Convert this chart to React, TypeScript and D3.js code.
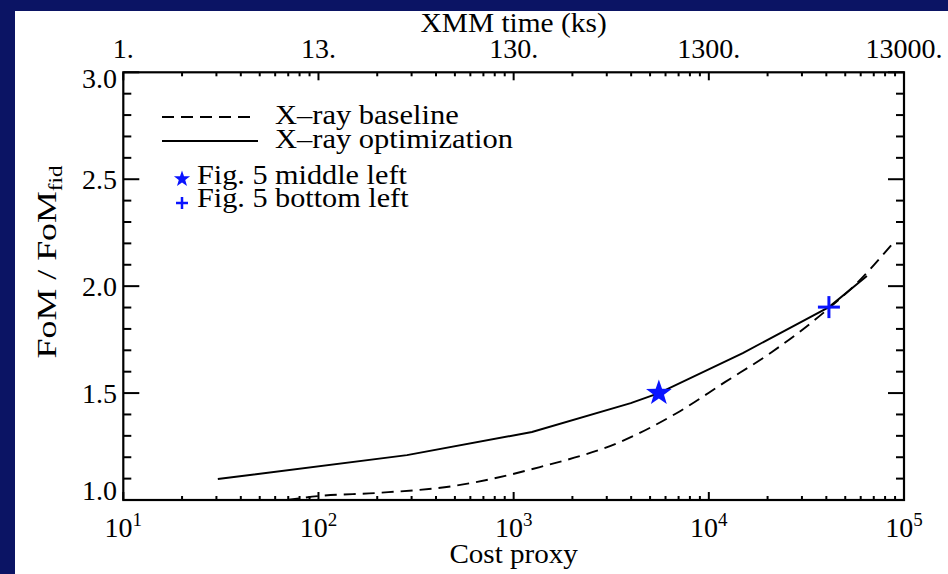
import React from 'react';
import * as d3 from 'd3';

// Axis definitions
const costTicks = [10, 100, 1000, 10000, 100000];
const costExponents = ['1', '2', '3', '4', '5'];
const xmmLabels = ['1.', '13.', '130.', '1300.', '13000.'];
const fomTicks = [1.0, 1.5, 2.0, 2.5, 3.0];
const fomLabels = ['1.0', '1.5', '2.0', '2.5', '3.0'];

// X-ray optimization curve (cost proxy, FoM / FoM_fid)
const optCost = [30.5, 284, 1241, 3981, 5546, 14930, 41240, 64550];
const optFoM = [1.098, 1.21, 1.318, 1.453, 1.5, 1.687, 1.902, 2.047];

// X-ray baseline curve
const baseCost = [69, 102, 199, 489, 1363, 3504, 6864, 12090, 21050, 41240, 57370, 87750];
const baseFoM = [1.0, 1.019, 1.033, 1.065, 1.154, 1.271, 1.407, 1.551, 1.692, 1.897, 2.014, 2.201];

// Highlighted configurations
const middleLeftPoint = [5546, 1.5];
const bottomLeftPoint = [41240, 1.902];

const W = 948;
const H = 574;
const NAVY = '#0b1464';
const BLUE = '#0a14ff';
const FONT = '"Liberation Serif", "Times New Roman", serif';
const FS = 28;

function starPath(cx: number, cy: number, R: number) {
  const r = R * 0.4;
  const pts: string[] = [];
  for (let i = 0; i < 10; i++) {
    const a = -Math.PI / 2 + (i * Math.PI) / 5;
    const rad = i % 2 === 0 ? R : r;
    pts.push(`${(cx + rad * Math.cos(a)).toFixed(2)},${(cy + rad * Math.sin(a)).toFixed(2)}`);
  }
  return 'M' + pts.join('L') + 'Z';
}

// Text drawn with a horizontal stretch, anchored at (x, y)
function Label(props: {
  x: number;
  y: number;
  sx?: number;
  anchor?: 'start' | 'middle' | 'end';
  size?: number;
  children: React.ReactNode;
}) {
  const { x, y, sx = 1, anchor = 'start', size = FS, children } = props;
  return (
    <text
      transform={`translate(${x},${y}) scale(${sx},1)`}
      fontSize={size}
      textAnchor={anchor}
      fill="#000"
    >
      {children}
    </text>
  );
}

export default function App() {
  const left = 123.3, right = 904, top = 72.3, bottom = 500;
  const x = d3.scaleLog().domain([10, 1e5]).range([left, right]);
  const y = d3.scaleLinear().domain([1, 3]).range([bottom, top]);

  const minorX: number[] = [];
  for (let k = 1; k < 5; k++) for (let m = 2; m <= 9; m++) minorX.push(m * Math.pow(10, k));
  const minorY = d3
    .range(0, 21)
    .filter((i) => i % 5 !== 0)
    .map((i) => 1 + i * 0.1);

  const lineLin = d3.line<[number, number]>().x((d) => x(d[0])).y((d) => y(d[1]));
  const lineSmooth = d3
    .line<[number, number]>()
    .x((d) => x(d[0]))
    .y((d) => y(d[1]))
    .curve(d3.curveMonotoneX);

  const optData = optCost.map((c, i) => [c, optFoM[i]] as [number, number]);
  const baseData = baseCost.map((c, i) => [c, baseFoM[i]] as [number, number]);

  const sx = x(middleLeftPoint[0]);
  const sy = y(middleLeftPoint[1]);
  const px = x(bottomLeftPoint[0]);
  const py = y(bottomLeftPoint[1]);

  return (
    <svg
      width={W}
      height={H}
      style={{ position: 'absolute', left: 0, top: 0, display: 'block', fontFamily: FONT }}
    >
      <rect x={0} y={0} width={W} height={H} fill={NAVY} />
      <rect x={15} y={11} width={W - 15} height={H - 11} fill="#ffffff" />

      {/* curves */}
      <path d={lineSmooth(baseData) || ''} fill="none" stroke="#000" strokeWidth={1.9} strokeDasharray="12,7" />
      <path d={lineLin(optData) || ''} fill="none" stroke="#000" strokeWidth={1.9} />

      {/* frame */}
      <rect x={left} y={top} width={right - left} height={bottom - top} fill="none" stroke="#000" strokeWidth={2.2} />

      {/* x ticks: bottom (up) and top (down) */}
      {costTicks.map((t) => (
        <g key={'xt' + t} stroke="#000" strokeWidth={2}>
          <line x1={x(t)} x2={x(t)} y1={bottom} y2={bottom - 8} />
          <line x1={x(t)} x2={x(t)} y1={top} y2={top + 8} />
        </g>
      ))}
      {minorX.map((t) => (
        <g key={'xm' + t} stroke="#000" strokeWidth={2}>
          <line x1={x(t)} x2={x(t)} y1={bottom} y2={bottom - 4} />
          <line x1={x(t)} x2={x(t)} y1={top} y2={top + 4} />
        </g>
      ))}

      {/* y ticks: left (right) and right (left) */}
      {fomTicks.map((t) => (
        <g key={'yt' + t} stroke="#000" strokeWidth={2}>
          <line x1={left} x2={left + 16} y1={y(t)} y2={y(t)} />
          <line x1={right} x2={right - 16} y1={y(t)} y2={y(t)} />
        </g>
      ))}
      {minorY.map((t) => (
        <g key={'ym' + t} stroke="#000" strokeWidth={2}>
          <line x1={left} x2={left + 8} y1={y(t)} y2={y(t)} />
          <line x1={right} x2={right - 8} y1={y(t)} y2={y(t)} />
        </g>
      ))}

      {/* bottom tick labels */}
      {costTicks.map((t, i) => (
        <text key={'xl' + t} x={x(t)} y={537} fontSize={FS} textAnchor="middle" fill="#000">
          10
          <tspan fontSize={19} dy={-11}>
            {costExponents[i]}
          </tspan>
        </text>
      ))}
      <Label x={(left + right) / 2} y={563} sx={1.04} anchor="middle">
        Cost proxy
      </Label>

      {/* top tick labels */}
      {costTicks.map((t, i) => (
        <text key={'tl' + t} x={x(t)} y={58} fontSize={FS} textAnchor="middle" fill="#000">
          {xmmLabels[i]}
        </text>
      ))}
      <Label x={(left + right) / 2} y={32} sx={1.05} anchor="middle">
        XMM time (ks)
      </Label>

      {/* left tick labels */}
      {fomTicks.map((t, i) => {
        const dy = i === 0 ? -10 : i === fomTicks.length - 1 ? 6 : 0;
        return (
          <text
            key={'yl' + t}
            x={117}
            y={y(t) + dy}
            fontSize={FS}
            textAnchor="end"
            dominantBaseline="central"
            fill="#000"
          >
            {fomLabels[i]}
          </text>
        );
      })}
      <text
        transform={`translate(56,262) rotate(-90) scale(1.28,1)`}
        fontSize={FS}
        textAnchor="middle"
        fill="#000"
      >
        FoM / FoM
        <tspan fontSize={18} dy={6}>
          fid
        </tspan>
      </text>

      {/* legend */}
      <line x1={162} x2={250} y1={117} y2={117} stroke="#000" strokeWidth={1.9} strokeDasharray="12,7" />
      <Label x={275} y={124} sx={1.09}>
        X–ray baseline
      </Label>
      <line x1={162} x2={258} y1={141} y2={141} stroke="#000" strokeWidth={1.9} />
      <Label x={275} y={148} sx={1.09}>
        X–ray optimization
      </Label>
      <path d={starPath(182, 179, 8.5)} fill={BLUE} />
      <Label x={197} y={184} sx={1.08}>
        Fig. 5 middle left
      </Label>
      <g stroke={BLUE} strokeWidth={2.5}>
        <line x1={176} x2={188} y1={203} y2={203} />
        <line x1={182} x2={182} y1={197} y2={209} />
      </g>
      <Label x={197} y={207} sx={1.08}>
        Fig. 5 bottom left
      </Label>

      {/* highlighted points */}
      <path d={starPath(sx, sy, 13.5)} fill={BLUE} />
      <g stroke={BLUE} strokeWidth={3}>
        <line x1={px - 11} x2={px + 11} y1={py} y2={py} />
        <line x1={px} x2={px} y1={py - 11} y2={py + 11} />
      </g>
    </svg>
  );
}
